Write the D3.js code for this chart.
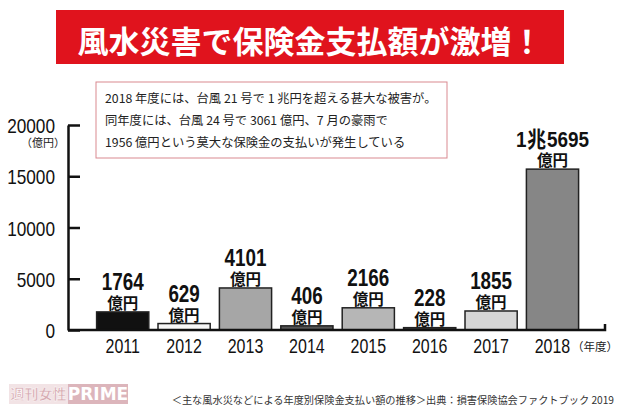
<!DOCTYPE html>
<html><head><meta charset="utf-8">
<script src="https://cdn.jsdelivr.net/npm/d3@7"></script>
<style>
html,body{margin:0;padding:0;background:#fff;}
svg{display:block;}
</style>
</head><body>
<svg id="c" width="620" height="413"></svg>
<script>
const years = ["2011","2012","2013","2014","2015","2016","2017","2018"];
const values = [1764, 629, 4101, 406, 2166, 228, 1855, 15695];
const valueLabels = ["1764","629","4101","406","2166","228","1855","1兆5695"];
const barColors = ["#111111","#f7f7f7","#a6a6a6","#555555","#b6b6b6","#3c3c3c","#d6d6d6","#868686"];
const yTicks = [0, 5000, 10000, 15000, 20000];
const titleText = "風水災害で保険金支払額が激増！";
const noteLines = [
  "2018 年度には、台風 21 号で 1 兆円を超える甚大な被害が。",
  "同年度には、台風 24 号で 3061 億円、7 月の豪雨で",
  "1956 億円という莫大な保険金の支払いが発生している"
];
const sourceText = "＜主な風水災などによる年度別保険金支払い額の推移＞出典：損害保険協会ファクトブック 2019";

const NUM = "'Liberation Sans',Arial,sans-serif";
const JP = "'Noto Sans CJK JP','Noto Sans CJK SC',sans-serif";
const SX = 0.82; // horizontal condensing for numerals

const svg = d3.select("#c");

// Title banner
svg.append("rect").attr("x",56).attr("y",10).attr("width",508).attr("height",54).attr("fill","#e0131d");
svg.append("text").attr("x",310).attr("y",39).attr("text-anchor","middle").attr("dominant-baseline","central")
  .attr("font-family",JP).attr("font-weight","bold").attr("font-size",31).attr("fill","#fff").text(titleText);

// Scales
const y = d3.scaleLinear().domain([0,20000]).range([330,125]);
const x = d3.scaleBand().domain(years).range([92, 92+61.4*8]).paddingInner(0.15).paddingOuter(0.075);

// Y axis
const yAxis = d3.axisLeft(y).tickValues(yTicks).tickSize(-12).tickSizeOuter(0).tickPadding(13).tickFormat(d3.format("d"));
const gy = svg.append("g").attr("transform","translate(68,0)").call(yAxis);
gy.select(".domain").attr("stroke","#111").attr("stroke-width",2.5);
gy.selectAll(".tick line").attr("stroke","#111").attr("stroke-width",2.5);
gy.selectAll(".tick text").attr("font-family",NUM).attr("font-size",21).attr("fill","#111").attr("dy","0.36em")
  .attr("x",-13/SX).attr("transform",`scale(${SX},1)`);

svg.append("text").attr("x",43).attr("y",147).attr("text-anchor","middle")
  .attr("font-family",JP).attr("font-size",11).attr("fill","#222").text("（億円）");

// Bars
svg.append("g").selectAll("rect").data(years).join("rect")
  .attr("x",d=>x(d)).attr("width",x.bandwidth())
  .attr("y",(d,i)=>y(values[i])).attr("height",(d,i)=>y(0)-y(values[i]))
  .attr("fill",(d,i)=>barColors[i]).attr("stroke","#222").attr("stroke-width",1.5);

// Baseline
svg.append("path").attr("d",`M68,${y(0)}H605V${y(0)-6}`).attr("fill","none").attr("stroke","#111").attr("stroke-width",2.5);

// Value labels
const lab = svg.append("g").selectAll("g").data(years).join("g")
  .attr("transform",(d,i)=>`translate(${x(d)+x.bandwidth()/2},${y(values[i])})`);
lab.append("text").attr("y",-22).attr("text-anchor","middle")
  .attr("font-weight","bold").attr("fill","#111")
  .attr("transform",(d,i)=>`scale(${i===7?0.86:SX},1)`)
  .each(function(d,i){
    const t = d3.select(this);
    const parts = valueLabels[i].split(/(兆)/).filter(p=>p.length);
    parts.forEach(p=>{
      t.append("tspan").text(p)
        .attr("font-family", p==="兆"?JP:NUM)
        .attr("font-size", i===7 ? 22 : 23)
        .attr("dx", p==="兆" ? 1 : (i===7 && p!=="1" ? 1 : 0));
    });
  });
lab.append("text").attr("y",-3).attr("text-anchor","middle")
  .attr("font-family",JP).attr("font-weight","bold").attr("font-size",15.5).attr("fill","#111").text("億円");

// Year labels
svg.append("g").selectAll("text").data(years).join("text")
  .attr("x",d=>(x(d)+x.bandwidth()/2)/SX).attr("y",353).attr("text-anchor","middle")
  .attr("transform",`scale(${SX},1)`)
  .attr("font-family",NUM).attr("font-size",19.5).attr("fill","#111").text(d=>d);
svg.append("text").attr("x",572).attr("y",351).attr("font-family",JP).attr("font-size",11.5).attr("fill","#222").text("（年度）");

// Note box
svg.append("rect").attr("x",96).attr("y",82).attr("width",351).attr("height",76)
  .attr("fill","#fff").attr("stroke","#d98990").attr("stroke-width",1);
svg.append("g").selectAll("text").data(noteLines).join("text")
  .attr("x",105).attr("y",(d,i)=>102.5+i*22)
  .attr("font-family",JP).attr("font-size",12.3).attr("fill","#222").text(d=>d);

// Source
svg.append("text").attr("x",614).attr("y",404).attr("text-anchor","end")
  .attr("font-family",JP).attr("font-size",10.2).attr("fill","#333").text(sourceText);

// Logo
svg.append("rect").attr("x",9).attr("y",384).attr("width",59).attr("height",20).attr("fill","#f2e3e5");
svg.append("rect").attr("x",68).attr("y",384).attr("width",60).attr("height",20).attr("fill","#dcb5bb");
svg.append("text").attr("x",38.5).attr("y",399).attr("text-anchor","middle").attr("font-family",JP).attr("font-weight","bold")
  .attr("font-size",14).attr("fill","#d6aab1").attr("stroke","#fff").attr("stroke-width",0.4).text("週刊女性");
svg.append("text").attr("x",98).attr("y",400).attr("text-anchor","middle").attr("font-family","'DejaVu Sans',sans-serif").attr("font-weight","bold")
  .attr("font-size",17).attr("fill","#fff").text("PRIME");
</script>
</body></html>
